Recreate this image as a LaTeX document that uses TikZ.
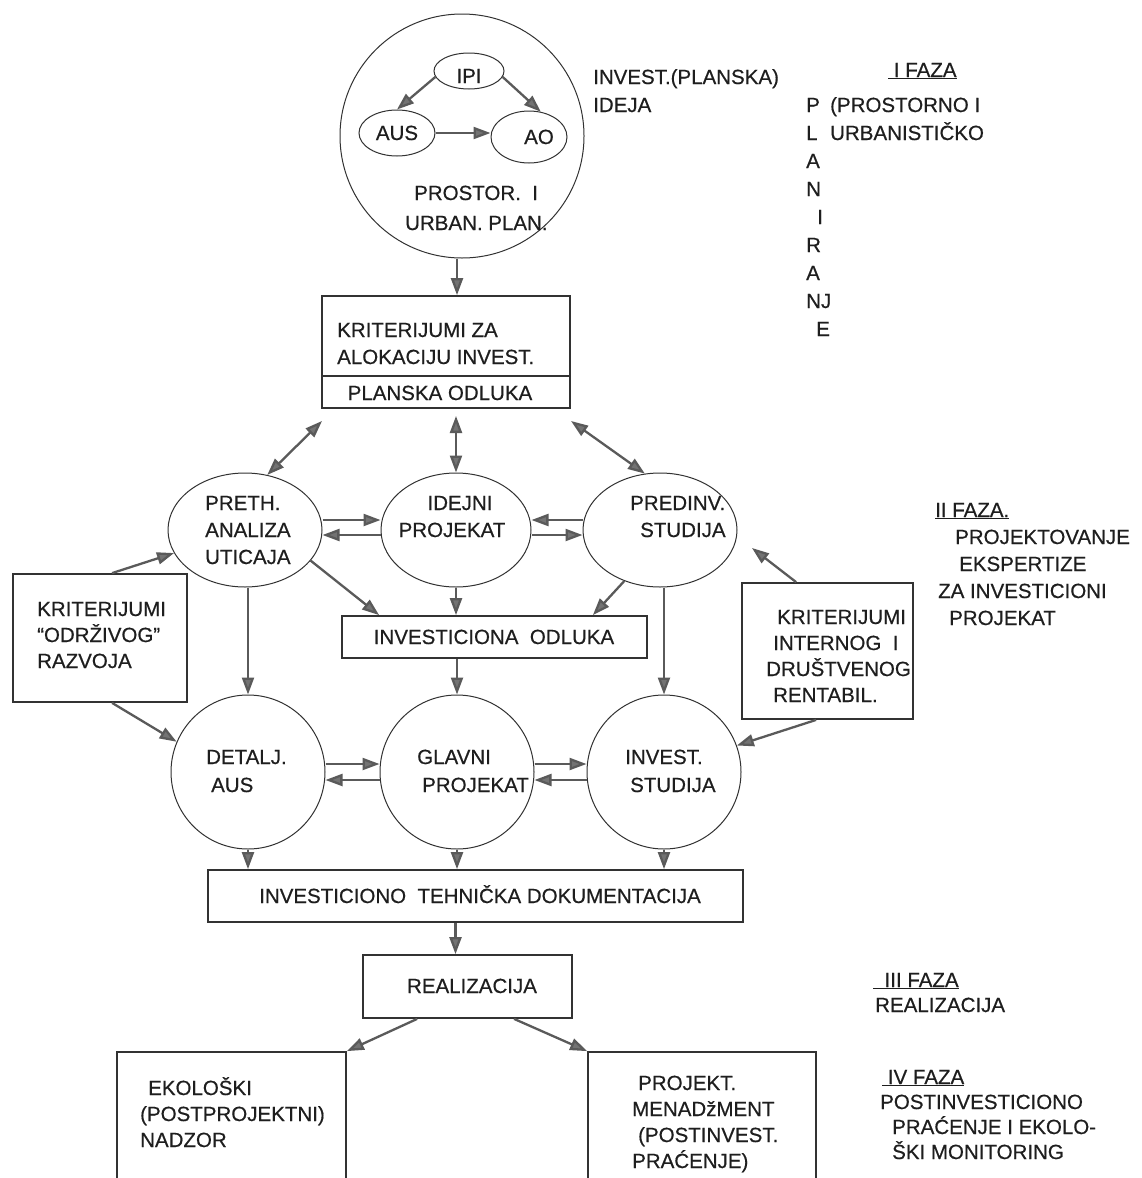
\documentclass[tikz,border=0pt]{standalone}
\usepackage{fontspec}
\setmainfont[FakeBold=0.5]{Liberation Sans}
\usetikzlibrary{arrows.meta,calc,shapes.geometric}
\definecolor{ln}{RGB}{50,50,50}
\definecolor{ar}{RGB}{90,90,90}
\definecolor{af}{RGB}{115,115,115}
\definecolor{tx}{RGB}{30,30,30}
\begin{document}
\begin{tikzpicture}[x=1pt,y=-1pt,
  lbl/.style={font=\fontsize{20.5}{27}\selectfont, text=tx, inner sep=0pt},
  ell/.style={draw=ln, line width=1pt, ellipse, inner sep=0pt},
  rnd/.style={draw=ln, line width=1pt, circle, inner sep=0pt},
  bx/.style={draw=ln, line width=1.8pt, rectangle, inner sep=0pt},
  arr/.style={draw=ar, line width=2.3pt, -{Triangle[length=17pt,width=12pt,fill=af]}},
  darr/.style={draw=ar, line width=2.3pt, {Triangle[length=17pt,width=12pt,fill=af]}-{Triangle[length=17pt,width=12pt,fill=af]}},
]
\useasboundingbox (0,0) rectangle (1142,1178);
\clip (0,0) rectangle (1142,1178);
\fill[white] (0,0) rectangle (1142,1178);

% ---------- top circle ----------
\node[rnd, minimum size=244pt] (big) at (462,136) {};
\node[ell, minimum width=70pt, minimum height=36pt] (ipi) at (469,71) {};
\node[ell, minimum width=76pt, minimum height=46pt] (aus) at (397,133) {};
\node[ell, minimum width=76pt, minimum height=52pt] (ao) at (529,137) {};
\node[lbl, anchor=base] (ipiT) at (469,83) {IPI};
\node[lbl, anchor=base] (ausT) at (397,140) {AUS};
\node[lbl, anchor=base] (aoT) at (539,144) {AO};
\draw[arr] (ipi.190) -- (aus.north);
\draw[arr] (ipi.-10) -- (ao.65);
\draw[arr] (aus.east) -- (aus.east -| ao.west);
\node[lbl, anchor=base west] (pr1) at (414,200) {PROSTOR.\ \ I};
\node[lbl, anchor=base west] (pr2) at (405,230) {URBAN. PLAN.};

\node[lbl, anchor=base west] (inv1) at (593,84) {INVEST.(PLANSKA)};
\node[lbl, anchor=base west] (inv2) at (593,112) {IDEJA};
\node[lbl, anchor=base west] (f1) at (888,77) {\underline{\ I FAZA}};
\node[lbl, anchor=base west] (v1) at (806,112) {P};
\node[lbl, anchor=base west] (pp) at (830,112) {(PROSTORNO I};
\node[lbl, anchor=base west] (v2) at (806,140) {L};
\node[lbl, anchor=base west] (uu) at (830,140) {URBANISTIČKO};
\node[lbl, anchor=base west] (v3) at (806,168) {A};
\node[lbl, anchor=base west] (v4) at (806,196) {N};
\node[lbl, anchor=base west] (v5) at (817,224) {I};
\node[lbl, anchor=base west] (v6) at (806,252) {R};
\node[lbl, anchor=base west] (v7) at (806,280) {A};
\node[lbl, anchor=base west] (v8) at (806,308) {NJ};
\node[lbl, anchor=base west] (v9) at (816,336) {E};

% ---------- planning box ----------
\node[bx, minimum width=248pt, minimum height=112pt] (b1) at (446,352) {};
\draw[ln, line width=1.8pt] (b1.west |- 0,376) -- (b1.east |- 0,376);
\node[lbl, anchor=base west] (k1) at (337,337) {KRITERIJUMI ZA};
\node[lbl, anchor=base west] (k2) at (337,364) {ALOKACIJU INVEST.};
\node[lbl, anchor=base] (k3) at (440,400) {PLANSKA ODLUKA};
\draw[arr] ([xshift=-5pt]big.south) -- ([xshift=-5pt]big.south |- b1.north);

% ---------- row 2 ----------
\node[ell, minimum width=154pt, minimum height=114pt] (preth) at (245,530) {};
\node[ell, minimum width=150pt, minimum height=114pt] (idej) at (456,530) {};
\node[ell, minimum width=154pt, minimum height=114pt] (pred) at (660,530) {};
\node[lbl, anchor=base west] (p1) at (205,510) {PRETH.};
\node[lbl, anchor=base west] (p2) at (205,537) {ANALIZA};
\node[lbl, anchor=base west] (p3) at (205,564) {UTICAJA};
\node[lbl, anchor=base] (i1) at (460,510) {IDEJNI};
\node[lbl, anchor=base] (i2) at (452,537) {PROJEKAT};
\node[lbl, anchor=base west] (d1) at (630,510) {PREDINV.};
\node[lbl, anchor=base west] (d2) at (640,537) {STUDIJA};

\coordinate (c1) at (322,421);
\coordinate (c2) at (456,416);
\coordinate (c3) at (571,421);
\draw[darr] (c1) -- (preth.68);
\draw[darr] (c2) -- (idej.north);
\draw[darr] (c3) -- (pred.105);

\draw[arr] ([yshift=10pt]preth.east) -- ([yshift=10pt]idej.west);
\draw[arr] ([yshift=-5pt]idej.west) -- ([yshift=-5pt]preth.east);
\draw[arr] ([yshift=10pt]pred.west) -- ([yshift=10pt]idej.east);
\draw[arr] ([yshift=-5pt]idej.east) -- ([yshift=-5pt]pred.west);

% ---------- side boxes ----------
\node[bx, minimum width=174pt, minimum height=128pt] (lb) at (100,638) {};
\node[lbl, anchor=base west] (l1) at (37,616) {KRITERIJUMI};
\node[lbl, anchor=base west] (l2) at (37,642) {“ODRŽIVOG”};
\node[lbl, anchor=base west] (l3) at (37,668) {RAZVOJA};

\node[bx, minimum width=171pt, minimum height=136pt] (rb) at (827.5,651) {};
\node[lbl, anchor=base west] (r1) at (777,624) {KRITERIJUMI};
\node[lbl, anchor=base west] (r2) at (773,650) {INTERNOG\ \ I};
\node[lbl, anchor=base west] (r3) at (766,676) {DRUŠTVENOG};
\node[lbl, anchor=base west] (r4) at (773,702) {RENTABIL.};

\node[lbl, anchor=base west] (g1) at (935,517) {\underline{II FAZA.}};
\node[lbl, anchor=base west] (g2) at (955,544) {PROJEKTOVANJE};
\node[lbl, anchor=base west] (g3) at (959,571) {EKSPERTIZE};
\node[lbl, anchor=base west] (g4) at (938,598) {ZA INVESTICIONI};
\node[lbl, anchor=base west] (g5) at (949,625) {PROJEKAT};

% ---------- investment decision ----------
\node[bx, minimum width=305pt, minimum height=42pt] (io) at (494.5,637) {};
\node[lbl, anchor=base] (ioT) at (494,644) {INVESTICIONA\ \ ODLUKA};

% ---------- row 3 ----------
\node[rnd, minimum size=154pt] (det) at (248,772) {};
\node[rnd, minimum size=154pt] (glav) at (457,772) {};
\node[rnd, minimum size=154pt] (inv) at (664,772) {};
\node[lbl, anchor=base west] (e1) at (206,764) {DETALJ.};
\node[lbl, anchor=base west] (e2) at (211,792) {AUS};
\node[lbl, anchor=base west] (h1) at (417,764) {GLAVNI};
\node[lbl, anchor=base west] (h2) at (422,792) {PROJEKAT};
\node[lbl, anchor=base west] (s1) at (625,764) {INVEST.};
\node[lbl, anchor=base west] (s2) at (630,792) {STUDIJA};

\draw[arr] ([yshift=8pt]det.east) -- ([yshift=8pt]glav.west);
\draw[arr] ([yshift=-8pt]glav.west) -- ([yshift=-8pt]det.east);
\draw[arr] ([yshift=8pt]glav.east) -- ([yshift=8pt]inv.west);
\draw[arr] ([yshift=-8pt]inv.west) -- ([yshift=-8pt]glav.east);

\coordinate (c4) at (752,548);
\draw[arr] ($(lb.north west)+(100,0)$) -- (preth.198);
\draw[arr] ($(lb.south west)+(100,0)$) -- (det.157);
\draw[arr] ($(rb.north west)+(55,0)$) -- (c4);
\draw[arr] ($(rb.south west)+(75,0)$) -- (inv.20);
\draw[arr] (preth.-25) -- ($(io.north west)+(38,0)$);
\draw[arr] (idej.south) -- (idej.south |- io.north);
\draw[arr] (pred.-125) -- ($(io.north east)+(-55,0)$);
\draw[arr] (det.north |- preth.south) -- (det.north);
\draw[arr] (inv.north |- pred.south) -- (inv.north);
\draw[arr] (glav.north |- io.south) -- (glav.north);

% ---------- documentation ----------
\node[bx, minimum width=535pt, minimum height=52pt] (itd) at (475.5,896) {};
\node[lbl, anchor=base] (itdT) at (480,903) {INVESTICIONO\ \ TEHNIČKA DOKUMENTACIJA};
\draw[arr] (det.south) -- (det.south |- itd.north);
\draw[arr] (glav.south) -- (glav.south |- itd.north);
\draw[arr] (inv.south) -- (inv.south |- itd.north);

% ---------- realisation ----------
\node[bx, minimum width=209pt, minimum height=63pt] (real) at (467.5,986.5) {};
\node[lbl, anchor=base] (realT) at (472,993) {REALIZACIJA};
\draw[arr] ([xshift=-12pt]real.north |- itd.south) -- ([xshift=-12pt]real.north);

\node[bx, minimum width=229pt, minimum height=138pt] (lbb) at (231.5,1121) {};
\node[bx, minimum width=228pt, minimum height=138pt] (rbb) at (702,1121) {};
\draw[arr] ($(real.south west)+(55,0)$) -- (lbb.north east);
\draw[arr] ($(real.south west)+(152,0)$) -- (rbb.north west);

\node[lbl, anchor=base west] (o1) at (148,1095) {EKOLOŠKI};
\node[lbl, anchor=base west] (o2) at (140,1121) {(POSTPROJEKTNI)};
\node[lbl, anchor=base west] (o3) at (140,1147) {NADZOR};
\node[lbl, anchor=base west] (m1) at (638,1090) {PROJEKT.};
\node[lbl, anchor=base west] (m2) at (632,1116) {MENADžMENT};
\node[lbl, anchor=base west] (m3) at (638,1142) {(POSTINVEST.};
\node[lbl, anchor=base west] (m4) at (632,1168) {PRAĆENJE)};

\node[lbl, anchor=base west] (f3a) at (873,987) {\underline{\ \ III FAZA}};
\node[lbl, anchor=base west] (f3b) at (875,1012) {REALIZACIJA};
\node[lbl, anchor=base west] (f4a) at (882,1084) {\underline{\ IV FAZA}};
\node[lbl, anchor=base west] (f4b) at (880,1109) {POSTINVESTICIONO};
\node[lbl, anchor=base west] (f4c) at (892,1134) {PRAĆENJE I EKOLO-};
\node[lbl, anchor=base west] (f4d) at (892,1159) {ŠKI MONITORING};
\end{tikzpicture}
\end{document}
